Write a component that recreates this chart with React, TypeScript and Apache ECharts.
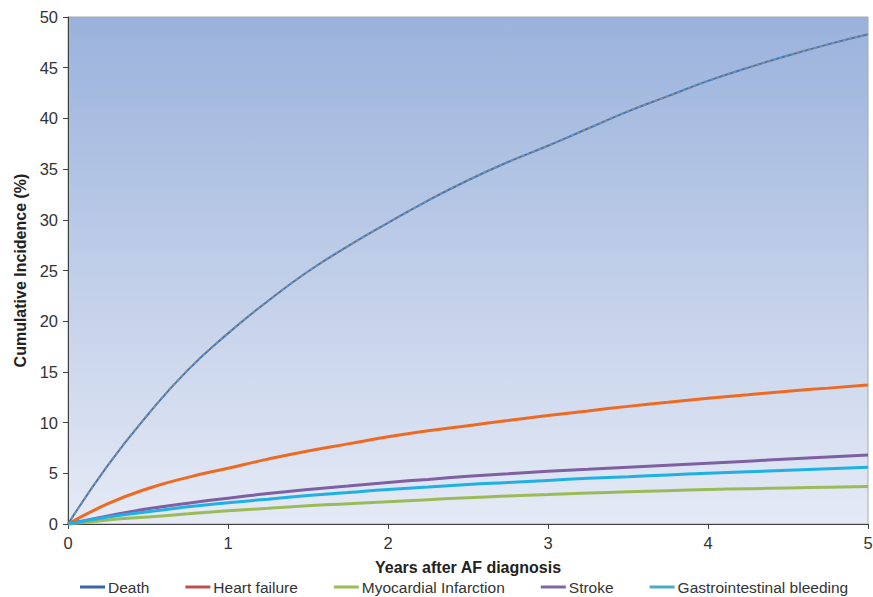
import React, { useEffect, useRef } from "react";
import * as echarts from "echarts";

const years = [0, 0.25, 0.5, 0.75, 1, 1.25, 1.5, 1.75, 2, 2.25, 2.5, 2.75, 3, 3.25, 3.5, 3.75, 4, 4.25, 4.5, 4.75, 5];
const death = [0, 5.8, 10.8, 15.2, 18.8, 22.0, 24.9, 27.4, 29.7, 31.9, 33.9, 35.7, 37.3, 39.0, 40.7, 42.2, 43.7, 45.0, 46.2, 47.3, 48.3];
const heartFailure = [0, 2.0, 3.5, 4.6, 5.5, 6.4, 7.2, 7.9, 8.6, 9.2, 9.7, 10.2, 10.7, 11.15, 11.6, 12.0, 12.4, 12.75, 13.1, 13.4, 13.7];
const myocardial = [0, 0.4, 0.7, 1.0, 1.3, 1.55, 1.8, 2.0, 2.2, 2.4, 2.6, 2.75, 2.9, 3.05, 3.17, 3.29, 3.4, 3.48, 3.56, 3.63, 3.7];
const stroke = [0, 0.8, 1.5, 2.05, 2.55, 3.0, 3.4, 3.75, 4.1, 4.4, 4.7, 4.95, 5.2, 5.4, 5.6, 5.8, 6.0, 6.2, 6.4, 6.6, 6.8];
const giBleeding = [0, 0.7, 1.2, 1.7, 2.1, 2.45, 2.8, 3.1, 3.4, 3.65, 3.9, 4.1, 4.3, 4.5, 4.67, 4.84, 5.0, 5.15, 5.3, 5.45, 5.6];

const seriesNames = ["Death", "Heart failure", "Myocardial Infarction", "Stroke", "Gastrointestinal bleeding"];
const legendColors = ["#3a64a3", "#c0504d", "#9bbb59", "#8064a2", "#4bacc6"];

const pairs = (ys: number[]) => years.map((x, i) => [x, ys[i]]);

export default function App() {
  const ref = useRef<HTMLDivElement>(null);
  useEffect(() => {
    if (!ref.current) return;
    const chart = echarts.init(ref.current, null, { renderer: "svg" });
    const font = "Liberation Sans, Arial, sans-serif";
    const lineBase = { type: "line", smooth: true, symbol: "none" };
    chart.setOption({
      animation: false,
      textStyle: { fontFamily: font },
      grid: {
        left: 68,
        right: 5,
        top: 17,
        bottom: 73,
        outerBoundsMode: "none",
        containLabel: false,
        show: true,
        borderColor: "#a8a8a8",
        borderWidth: 1,
        backgroundColor: new echarts.graphic.LinearGradient(0, 0, 0, 1, [
          { offset: 0, color: "#9ab2dc" },
          { offset: 1, color: "#e5eaf5" },
        ]),
      },
      legend: {
        left: 75,
        bottom: -3,
        icon: "rect",
        itemWidth: 25,
        itemHeight: 3,
        itemGap: 36,
        textStyle: { fontFamily: font, fontSize: 15.5, color: "#333", padding: [0, 0, 0, -2] },
        data: seriesNames.map((n, i) => ({ name: n, itemStyle: { color: legendColors[i] } })),
      },
      xAxis: {
        type: "value",
        min: 0,
        max: 5,
        interval: 1,
        name: "Years after AF diagnosis",
        nameLocation: "middle",
        nameGap: 35,
        nameTextStyle: { fontFamily: font, fontSize: 16, fontWeight: "bold", color: "#222" },
        axisLine: { lineStyle: { color: "#404040", width: 1 } },
        axisTick: { show: true, length: 5, lineStyle: { color: "#404040" } },
        axisLabel: { fontSize: 16.5, color: "#333", margin: 10 },
        splitLine: { show: false },
      },
      yAxis: {
        type: "value",
        min: 0,
        max: 50,
        interval: 5,
        name: "Cumulative Incidence (%)",
        nameLocation: "middle",
        nameGap: 40,
        nameTextStyle: { fontFamily: font, fontSize: 16, fontWeight: "bold", color: "#222" },
        axisLine: { show: true, lineStyle: { color: "#404040", width: 1 } },
        axisTick: { show: true, length: 5, lineStyle: { color: "#404040" } },
        axisLabel: { fontSize: 16.5, color: "#333", margin: 10 },
        splitLine: { show: false },
      },
      series: [
        {
          ...lineBase,
          name: "Death",
          data: pairs(death),
          lineStyle: { color: "#3c78c0", width: 2 },
          itemStyle: { color: legendColors[0] },
          z: 3,
        },
        {
          ...lineBase,
          name: "Death",
          data: pairs(death),
          lineStyle: { color: "#8c8c8c", width: 2, type: [3, 3] },
          itemStyle: { color: legendColors[0] },
          z: 4,
        },
        {
          ...lineBase,
          name: "Heart failure",
          data: pairs(heartFailure),
          lineStyle: { color: "#ee6a22", width: 3 },
          itemStyle: { color: legendColors[1] },
        },
        {
          ...lineBase,
          name: "Myocardial Infarction",
          data: pairs(myocardial),
          lineStyle: { color: "#9bbb59", width: 3 },
          itemStyle: { color: legendColors[2] },
        },
        {
          ...lineBase,
          name: "Stroke",
          data: pairs(stroke),
          lineStyle: { color: "#7f60a3", width: 3 },
          itemStyle: { color: legendColors[3] },
        },
        {
          ...lineBase,
          name: "Gastrointestinal bleeding",
          data: pairs(giBleeding),
          lineStyle: { color: "#1fb0e6", width: 3 },
          itemStyle: { color: legendColors[4] },
        },
      ],
    });
    return () => chart.dispose();
  }, []);
  return <div ref={ref} style={{ width: 873, height: 597, position: "absolute", left: 0, top: 0 }} />;
}
